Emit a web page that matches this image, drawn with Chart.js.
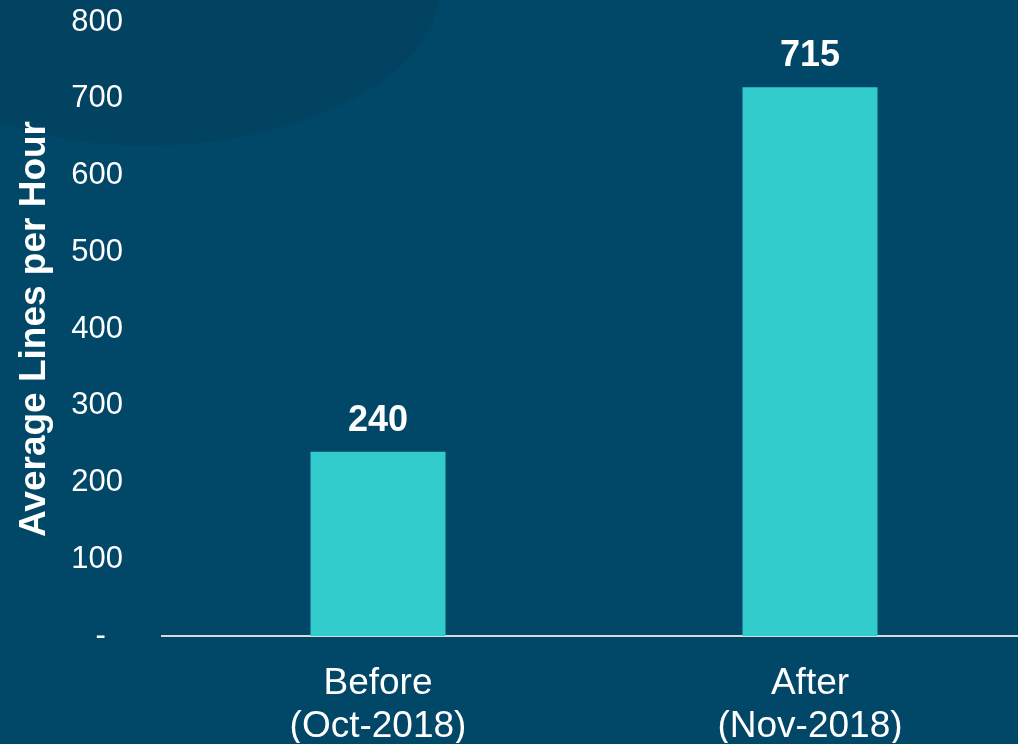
<!DOCTYPE html>
<html>
<head>
<meta charset="utf-8">
<script src="https://cdn.jsdelivr.net/npm/chart.js@4/dist/chart.umd.min.js"></script>
<style>
  html, body { margin: 0; padding: 0; background: #014868; overflow: hidden; }
  #caja { width: 1027px; height: 744px; }
</style>
</head>
<body>
<div id="caja"><canvas id="grafica"></canvas></div>
<script>
// datos del grafico
const categorias = [['Before', '(Oct-2018)'], ['After', '(Nov-2018)']];
const valores = [240, 715];
const etiquetasY = [0, 100, 200, 300, 400, 500, 600, 700, 800];
const tituloY = 'Average Lines per Hour';

const fuente = "'Liberation Sans', Arial, sans-serif";

// fondo con el circulo oscuro de la esquina
const fondo = {
    id: 'fondo',
    beforeDraw(chart) {
        const ctx = chart.ctx;
        ctx.save();
        ctx.fillStyle = '#014868';
        ctx.fillRect(0, 0, chart.width, chart.height);
        ctx.fillStyle = '#014361';
        ctx.beginPath();
        ctx.ellipse(165, 0, 275, 145, -0.05, 0, Math.PI * 2);
        ctx.fill();
        ctx.restore();
    }
};

// numeros encima de las barras
const etiquetasBarras = {
    id: 'etiquetasBarras',
    afterDatasetsDraw(chart) {
        const ctx = chart.ctx;
        const meta = chart.getDatasetMeta(0);
        ctx.save();
        ctx.fillStyle = '#ffffff';
        ctx.font = 'bold 36px ' + fuente;
        ctx.textAlign = 'center';
        ctx.textBaseline = 'alphabetic';
        meta.data.forEach((barra, i) => {
            ctx.fillText(valores[i], barra.x, barra.y - 21);
        });
        ctx.restore();
    }
};

new Chart(document.getElementById('grafica'), {
    type: 'bar',
    data: {
        labels: categorias,
        datasets: [{
            data: valores,
            backgroundColor: '#33CCCC',
            barPercentage: 1,
            categoryPercentage: 0.3125
        }]
    },
    options: {
        responsive: true,
        maintainAspectRatio: false,
        animation: false,
        layout: { padding: { left: 13, top: 22, right: 1, bottom: 1 } },
        plugins: {
            legend: { display: false },
            tooltip: { enabled: false }
        },
        scales: {
            x: {
                grid: { display: false, drawTicks: false },
                border: { display: true, color: '#D9D9D9', width: 2 },
                ticks: {
                    color: '#ffffff',
                    padding: 26,
                    font: { family: fuente, size: 37, lineHeight: 1.16 },
                    maxRotation: 0
                },
                afterFit(scale) {
                    scale.height = 107;
                    scale.paddingLeft = 0;
                    scale.paddingRight = 0;
                }
            },
            y: {
                min: 0,
                max: 800,
                afterBuildTicks(scale) {
                    scale.ticks = etiquetasY.map(v => ({ value: v }));
                },
                grid: { display: false, drawTicks: false },
                border: { display: false },
                ticks: {
                    color: '#ffffff',
                    padding: 39,
                    font: { family: fuente, size: 31 },
                    callback: v => v === 0 ? '-  ' : v
                },
                title: {
                    display: true,
                    text: tituloY,
                    color: '#ffffff',
                    padding: { top: 0, bottom: 18 },
                    font: { family: fuente, size: 37, weight: 'bold', lineHeight: 1.2 }
                },
                afterFit(scale) {
                    scale.width = 149;
                    scale.paddingTop = 0;
                    scale.paddingBottom = 0;
                }
            }
        }
    },
    plugins: [fondo, etiquetasBarras]
});
</script>
</body>
</html>
